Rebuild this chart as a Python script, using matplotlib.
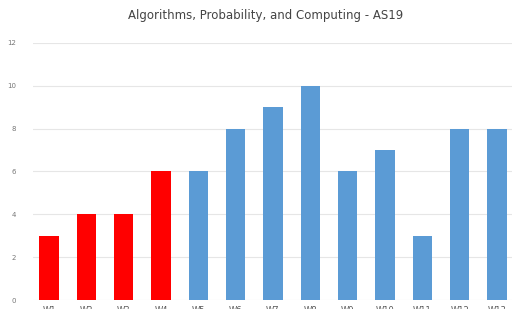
import numpy as np
import matplotlib.pyplot as plt

title = "Algorithms, Probability, and Computing - AS19"
weeks = ["W1", "W2", "W3", "W4", "W5", "W6", "W7", "W8", "W9", "W10", "W11", "W12", "W13"]
hours = [3, 4, 4, 6, 6, 8, 9, 10, 6, 7, 3, 8, 8]
colors = ["#ff0000"] * 4 + ["#5b9bd5"] * 9

fig = plt.figure(figsize=(5.15, 3.09), dpi=100)
ax = fig.add_axes([0.064, 0.029, 0.93, 0.832])

x = np.arange(len(hours))
ax.bar(x, hours, width=0.52, color=colors, zorder=3)

ax.set_xlim(-0.43, 12.4)
ax.set_ylim(0, 12)
ax.set_yticks(range(0, 13, 2))
ax.set_xticks(x)
ax.set_xticklabels(weeks, fontsize=6, color="#555555")
ax.tick_params(axis="x", length=0, pad=4)
ax.tick_params(axis="y", length=0, labelsize=5, labelcolor="#777777", pad=12)
ax.grid(axis="y", color="#e6e6e6", linewidth=0.8, zorder=0)
for s in ax.spines.values():
    s.set_visible(False)

fig.text(0.515, 0.95, title, ha="center", va="center", fontsize=8.5, color="#444444")

fig.savefig("out.png", dpi=100)
